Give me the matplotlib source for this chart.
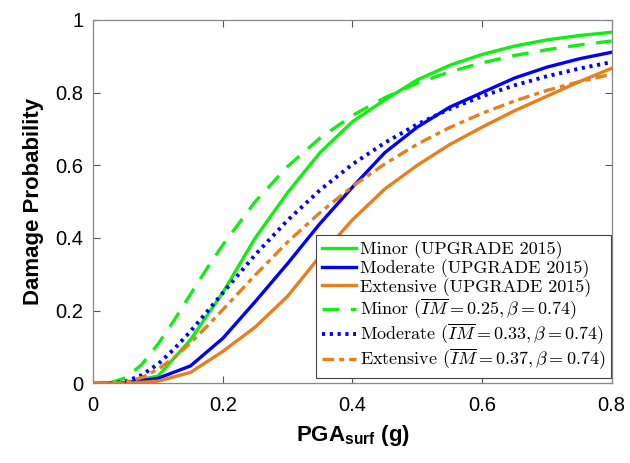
import matplotlib
matplotlib.use("Agg")
import matplotlib.pyplot as plt

# UPGRADE 2015 curves
pga_up = [0, 0.05, 0.1, 0.15, 0.2, 0.25, 0.3, 0.35, 0.4, 0.45, 0.5, 0.55, 0.6, 0.65, 0.7, 0.75, 0.8]
minor_up = [0, 0.002, 0.02, 0.12, 0.25, 0.40, 0.525, 0.635, 0.72, 0.78, 0.835, 0.875, 0.905, 0.928, 0.945, 0.957, 0.966]
moderate_up = [0, 0.001, 0.014, 0.048, 0.124, 0.225, 0.33, 0.44, 0.54, 0.635, 0.705, 0.76, 0.80, 0.84, 0.87, 0.893, 0.911]
extensive_up = [0, 0.0, 0.006, 0.03, 0.088, 0.155, 0.24, 0.35, 0.45, 0.535, 0.60, 0.657, 0.705, 0.75, 0.79, 0.83, 0.867]

# fitted lognormal curves
pga_fit = [0.025, 0.05, 0.075, 0.1, 0.125, 0.15, 0.175, 0.2, 0.25, 0.3, 0.35, 0.4, 0.45, 0.5, 0.55, 0.6, 0.65, 0.7, 0.75, 0.8]
minor_fit = [0.001, 0.015, 0.052, 0.108, 0.174, 0.245, 0.315, 0.381, 0.5, 0.597, 0.675, 0.737, 0.786, 0.826, 0.857, 0.882, 0.902, 0.918, 0.931, 0.942]
moderate_fit = [0.0, 0.005, 0.023, 0.053, 0.095, 0.143, 0.196, 0.249, 0.354, 0.449, 0.532, 0.603, 0.662, 0.713, 0.755, 0.79, 0.82, 0.845, 0.866, 0.884]
extensive_fit = [0.0, 0.003, 0.016, 0.039, 0.071, 0.111, 0.156, 0.203, 0.298, 0.389, 0.47, 0.542, 0.604, 0.658, 0.704, 0.743, 0.777, 0.806, 0.83, 0.851]

green = "#11ee11"
blue = "#0000ff"
orange = "#e87e1c"

plt.rcParams["mathtext.fontset"] = "cm"
plt.rcParams["mathtext.rm"] = "Liberation Sans"
plt.rcParams["mathtext.bf"] = "Liberation Sans:bold"

fig = plt.figure(figsize=(6.3, 4.63), dpi=100)
ax = fig.add_axes([0.148, 0.172, 0.823, 0.785])

lw = 2.4
ax.plot(pga_up, minor_up, color=green, lw=lw, label="Minor (UPGRADE 2015)")
ax.plot(pga_up, moderate_up, color=blue, lw=lw, label="Moderate (UPGRADE 2015)")
ax.plot(pga_up, extensive_up, color=orange, lw=lw, label="Extensive (UPGRADE 2015)")
ax.plot(pga_fit, minor_fit, color=green, lw=lw, ls=(0, (5, 3.5)),
        label=r"Minor ($\overline{IM}=0.25,\beta=0.74$)")
ax.plot(pga_fit, moderate_fit, color=blue, lw=lw + 0.4, ls=(0, (0.8, 1.2)),
        label=r"Moderate ($\overline{IM}=0.33,\beta=0.74$)")
ax.plot(pga_fit, extensive_fit, color=orange, lw=lw, ls=(0, (3.5, 1.5, 1.5, 1.5)),
        label=r"Extensive ($\overline{IM}=0.37,\beta=0.74$)")

ax.set_xlim(0, 0.8)
ax.set_ylim(0, 1)
ax.set_xticks([0, 0.2, 0.4, 0.6, 0.8])
ax.set_xticklabels(["0", "0.2", "0.4", "0.6", "0.8"])
ax.set_yticks([0, 0.2, 0.4, 0.6, 0.8, 1])
ax.set_yticklabels(["0", "0.2", "0.4", "0.6", "0.8", "1"])
ax.tick_params(direction="in", top=True, right=True, length=5, width=0.8,
               color="#555555", labelsize=14.5)
ax.tick_params(axis="x", pad=9)
ax.tick_params(axis="y", pad=7)
for lab in ax.get_xticklabels() + ax.get_yticklabels():
    lab.set_family("Liberation Sans")
for s in ax.spines.values():
    s.set_color("#888888")
    s.set_linewidth(0.9)

ax.set_ylabel("Damage Probability", fontsize=16, fontweight="bold",
              family="Liberation Sans", labelpad=8)
ax.set_xlabel(r"PGA$_{\mathbf{surf}}$ (g)", fontsize=16, fontweight="bold",
              family="Liberation Sans", math_fontfamily="custom", labelpad=6)

leg = ax.legend(loc="lower right", bbox_to_anchor=(0.998, 0.016),
                prop={"family": "cmr10", "size": 13},
                fancybox=False, framealpha=1, edgecolor="#444444",
                handlelength=1.9, handletextpad=0.2, labelspacing=0.0,
                borderpad=0.3, borderaxespad=0.0)
leg.get_frame().set_linewidth(0.8)

fig.savefig("out.png", dpi=100)
